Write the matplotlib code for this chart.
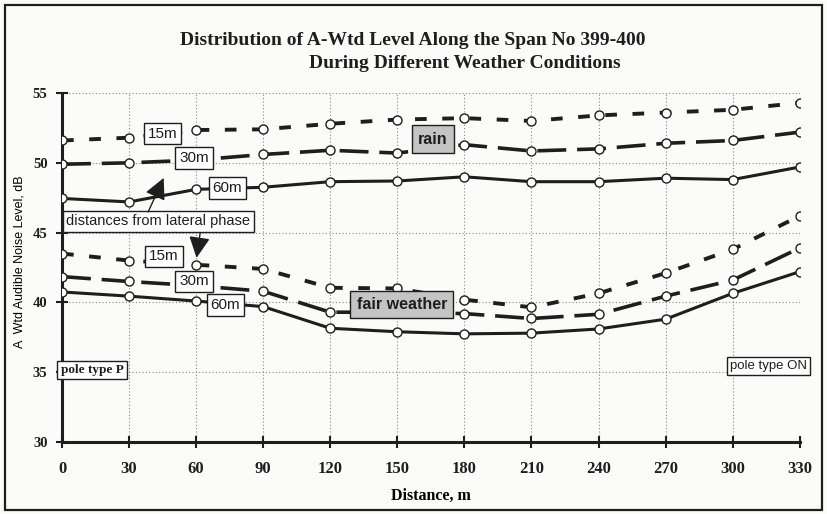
import matplotlib
matplotlib.use("Agg")
import matplotlib.pyplot as plt
from matplotlib.patches import Rectangle

distance = [0, 30, 60, 90, 120, 150, 180, 210, 240, 270, 300, 330]
rain_15m = [51.6, 51.8, 52.35, 52.4, 52.8, 53.1, 53.2, 53.0, 53.4, 53.6, 53.8, 54.3]
rain_30m = [49.9, 50.0, 50.2, 50.6, 50.9, 50.7, 51.3, 50.85, 51.0, 51.4, 51.6, 52.2]
rain_60m = [47.45, 47.2, 48.1, 48.25, 48.65, 48.7, 49.0, 48.65, 48.65, 48.9, 48.8, 49.7]
fair_15m = [43.5, 43.0, 42.7, 42.4, 41.05, 41.0, 40.2, 39.65, 40.65, 42.1, 43.8, 46.2]
fair_30m = [41.85, 41.5, 41.2, 40.8, 39.3, 39.3, 39.2, 38.85, 39.15, 40.45, 41.6, 43.9]
fair_60m = [40.75, 40.45, 40.1, 39.7, 38.15, 37.9, 37.75, 37.8, 38.1, 38.8, 40.65, 42.2]
y_ticks = [30, 35, 40, 45, 50, 55]

INK = "#1e1e1e"
SERIF = "Liberation Serif"
SANS = "Liberation Sans"

fig = plt.figure(figsize=(8.27, 5.14), dpi=100, facecolor="#fbfbfa")
ax = fig.add_axes([0.075, 0.140, 0.892, 0.679])
ax.set_facecolor("#fbfbfa")

mk = dict(marker="o", markersize=6.5, markerfacecolor="white",
          markeredgecolor=INK, markeredgewidth=1.0, color=INK)
for s15, s30, s60 in [(rain_15m, rain_30m, rain_60m), (fair_15m, fair_30m, fair_60m)]:
    ax.plot(distance, s15, linestyle=(0, (3, 4)), linewidth=2.8, **mk, zorder=3)
    ax.plot(distance, s30, linestyle=(0, (8, 3)), linewidth=2.6, **mk, zorder=3)
    ax.plot(distance, s60, linestyle="-", linewidth=2.2, **mk, zorder=3)

ax.set_xlim(0, 330)
ax.set_ylim(30, 55)
ax.set_xticks(distance)
ax.set_yticks(y_ticks)
for s in ["top", "right"]:
    ax.spines[s].set_visible(False)
for s in ["left", "bottom"]:
    ax.spines[s].set_linewidth(2.2)
    ax.spines[s].set_color(INK)
ax.tick_params(axis="x", direction="inout", length=9, width=1.5, colors=INK, pad=9)
ax.tick_params(axis="y", direction="inout", length=9, width=1.5, colors=INK, pad=6)
for lbl in ax.get_xticklabels():
    lbl.set_fontfamily(SERIF); lbl.set_fontweight("bold"); lbl.set_fontsize(12)
for lbl in ax.get_yticklabels():
    lbl.set_fontfamily(SERIF); lbl.set_fontweight("bold"); lbl.set_fontsize(10.5)
ax.grid(True, linestyle=(0, (1, 2)), color="#888888", linewidth=0.8)
ax.set_axisbelow(True)

ax.set_xlabel("Distance, m", fontfamily=SERIF, fontweight="bold", fontsize=11.5, labelpad=8)
ax.set_ylabel("A  Wtd Audible Noise Level, dB", fontfamily=SANS, fontsize=9)
ax.yaxis.set_label_coords(-0.049, 0.516)
fig.text(0.499, 0.922, "Distribution of A-Wtd Level Along the Span No 399-400",
         ha="center", va="center", fontfamily=SERIF, fontweight="bold", fontsize=14, color=INK)
fig.text(0.562, 0.876, "During Different Weather Conditions",
         ha="center", va="center", fontfamily=SERIF, fontweight="bold", fontsize=14, color=INK)

wbox = dict(boxstyle="square,pad=0.25", facecolor="white", edgecolor=INK, linewidth=1.0)
gbox = dict(boxstyle="square,pad=0.4", facecolor="#c4c4c4", edgecolor=INK, linewidth=1.0)
def lab(x, y, t, box, size=11, fam=SANS, weight="normal"):
    ax.text(x, y, t, ha="center", va="center", fontsize=size, fontfamily=fam,
            fontweight=weight, color=INK, bbox=box, zorder=5, clip_on=False)

lab(45, 52.1, "15m", wbox)
lab(59, 50.35, "30m", wbox)
lab(74, 48.2, "60m", wbox)
lab(45.6, 43.3, "15m", wbox)
lab(59, 41.5, "30m", wbox)
lab(73, 39.8, "60m", wbox)
lab(43, 45.8, "distances from lateral phase", wbox, size=10.5)
lab(166, 51.7, "rain", gbox, size=11.5, weight="bold")
lab(152, 39.85, "fair weather", gbox, size=11.5, weight="bold")
lab(13.4, 35.15, "pole type P", wbox, size=9.5, fam=SERIF, weight="bold")
lab(316, 35.45, "pole type ON", wbox, size=9.5, fam=SANS)

arrow = dict(arrowstyle="-|>,head_length=1.3,head_width=0.65", color=INK, linewidth=1.0)
ax.annotate("", xy=(46, 49.1), xytext=(38, 46.3), arrowprops=arrow, zorder=6)
ax.annotate("", xy=(60, 43.0), xytext=(62, 45.2), arrowprops=arrow, zorder=6)

fig.add_artist(Rectangle((0.006, 0.008), 0.988, 0.982, transform=fig.transFigure,
                         fill=False, edgecolor=INK, linewidth=1.6))

fig.savefig("out.png", dpi=100, facecolor=fig.get_facecolor())
